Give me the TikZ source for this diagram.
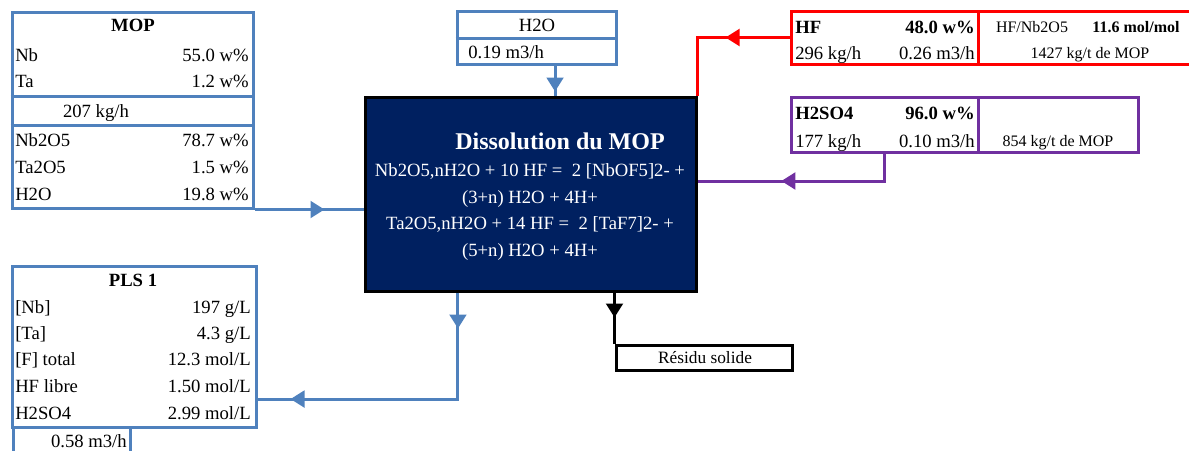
\documentclass[tikz,border=0pt]{standalone}
\usepackage{fontspec}
\setmainfont{Liberation Serif}
\usetikzlibrary{arrows.meta, positioning, fit, decorations.markings}
\definecolor{SteelBlue}{RGB}{79,129,189}
\definecolor{DeepNavy}{RGB}{0,32,96}
\definecolor{AcidRed}{RGB}{255,0,0}
\definecolor{AcidPurple}{RGB}{112,48,160}

\begin{document}
\begin{tikzpicture}[
  x=0.75pt, y=-0.75pt,
  frame/.style={draw, line width=2.25pt, inner sep=0pt},
  blueframe/.style={frame, draw=SteelBlue},
  redframe/.style={frame, draw=AcidRed},
  purpleframe/.style={frame, draw=AcidPurple},
  txt/.style={inner sep=0pt, text height=12pt, text depth=3pt,
              font=\fontsize{14}{16}\selectfont},
  lab/.style={txt, anchor=west},
  val/.style={txt, anchor=east},
  hdr/.style={txt, font=\fontsize{14}{16}\selectfont\bfseries},
  small/.style={inner sep=0pt, text height=11pt, text depth=3pt,
                font=\fontsize{12}{14}\selectfont},
  flow/.style={line width=2.25pt},
  midtip/.style={postaction={decorate, decoration={markings,
      mark=at position #1 with {\arrow{Triangle[length=10.5pt,width=12.5pt]}}}}},
]
\useasboundingbox (0,0) rectangle (1189,450);
\clip (0,0) rectangle (1189,450);

% MOP feed
\node[blueframe, fit={(12,12) (253,208)}] (mop) {};
\draw[SteelBlue, line width=2.25pt] (mop.west |- 0,96) -- (mop.east |- 0,96);
\draw[SteelBlue, line width=2.25pt] (mop.west |- 0,125) -- (mop.east |- 0,125);
\node[hdr] (mopT) at (133,25) {MOP};
\node[lab] (mopNb)   at (15,55)  {Nb};     \node[val] (mopNbv)   at (249,55)  {55.0 w\%};
\node[lab] (mopTa)   at (15,81)  {Ta};     \node[val] (mopTav)   at (249,81)  {1.2 w\%};
\node[txt] (mopRate) at (96,111) {207 kg/h};
\node[lab] (mopNbO)  at (15,140) {Nb2O5};  \node[val] (mopNbOv)  at (249,140) {78.7 w\%};
\node[lab] (mopTaO)  at (15,167) {Ta2O5};  \node[val] (mopTaOv)  at (249,167) {1.5 w\%};
\node[lab] (mopW)    at (15,194) {H2O};    \node[val] (mopWv)    at (249,194) {19.8 w\%};

% water
\node[blueframe, fit={(457,11) (616,64)}] (h2o) {};
\draw[SteelBlue, line width=2.25pt] (h2o.west |- 0,38) -- (h2o.east |- 0,38);
\node[txt] (h2oT) at (537,25) {H2O};
\node[lab] (h2oQ) at (468,52) {0.19 m3/h};

% HF
\node[redframe, fit={(791,11) (978,64)}] (hf) {};
\node[redframe, fit={(978,11) (1196,64)}] (hfratio) {};
\node[lab, font=\fontsize{14}{16}\selectfont\bfseries] (hfT) at (795,27) {HF};
\node[val, font=\fontsize{14}{16}\selectfont\bfseries] (hfC) at (975,27) {48.0 w\%};
\node[lab] (hfM) at (795,53) {296 kg/h};
\node[val] (hfV) at (975,53) {0.26 m3/h};
\node[small] (hfR)  at (1032,27) {HF/Nb2O5};
\node[small, font=\fontsize{12}{14}\selectfont\bfseries] (hfRv) at (1136,27) {11.6 mol/mol};
\node[small] (hfS)  at (1090,53) {1427 kg/t de MOP};

% H2SO4
\node[purpleframe, fit={(791,97) (978,152)}] (acid) {};
\node[purpleframe, fit={(978,97) (1138,152)}] (acidratio) {};
\node[lab, font=\fontsize{14}{16}\selectfont\bfseries] (acidT) at (795,113) {H2SO4};
\node[val, font=\fontsize{14}{16}\selectfont\bfseries] (acidC) at (975,113) {96.0 w\%};
\node[lab] (acidM) at (795,141) {177 kg/h};
\node[val] (acidV) at (975,141) {0.10 m3/h};
\node[small] (acidS) at (1058,141) {854 kg/t de MOP};

% reactor
\node[frame, draw=black, fill=DeepNavy, fit={(365,97) (696,291)}] (diss) {};
\node[inner sep=0pt, text height=14.8pt, text depth=3pt, text=white,
      font=\fontsize{18}{20}\selectfont\bfseries] (dissT) at (560,142) {Dissolution du MOP};
\node[inner sep=0pt, text=white, align=center,
      font=\fontsize{14}{20}\selectfont] (dissEq) at (530,212)
  {Nb2O5,nH2O + 10 HF =\ \ 2 [NbOF5]2- +\\(3+n) H2O + 4H+\\
   Ta2O5,nH2O + 14 HF =\ \ 2 [TaF7]2- +\\(5+n) H2O + 4H+};

% residue
\node[frame, draw=black, fit={(616,345) (792,370)}] (residu) {};
\node[txt, font=\fontsize{13}{15}\selectfont] (residuT) at (705,357) {Résidu solide};

% PLS
\node[blueframe, fit={(12,266) (256,427)}] (pls) {};
\node[blueframe, fit={(13,427) (130,460)}] (plsq) {};
\node[hdr] (plsT) at (133,280) {PLS 1};
\node[lab] (plsNb) at (15,307) {[Nb]};      \node[val] (plsNbv) at (251,307) {197 g/L};
\node[lab] (plsTa) at (15,333) {[Ta]};      \node[val] (plsTav) at (251,333) {4.3 g/L};
\node[lab] (plsF)  at (15,359) {[F] total}; \node[val] (plsFv)  at (251,359) {12.3 mol/L};
\node[lab] (plsHF) at (15,386) {HF libre};  \node[val] (plsHFv) at (251,386) {1.50 mol/L};
\node[lab] (plsS)  at (15,413) {H2SO4};     \node[val] (plsSv)  at (251,413) {2.99 mol/L};
\node[val, text depth=1pt] (plsQ) at (127,440) {0.58 m3/h};

% streams
\draw[flow, SteelBlue, midtip=52.5pt] (mop.south east) -- (mop.south east -| diss.west);
\draw[flow, SteelBlue, midtip=19.5pt] ([xshift=13.9pt]h2o.south) -- ([xshift=13.9pt]h2o.south |- diss.north);
\draw[flow, AcidRed, midtip=48pt] (hf.west) -| (diss.north east);
\draw[flow, AcidPurple, midtip=98pt] (acid.south) |- ([yshift=9.75pt]diss.east);
\draw[flow, SteelBlue, midtip=27pt, midtip=205.5pt] ([xshift=-54.4pt]diss.south) |- ([yshift=-39.4pt]pls.east);
\draw[flow, black, midtip=18.75pt] (residu.north west |- diss.south) -- (residu.north west);
\end{tikzpicture}
\end{document}
